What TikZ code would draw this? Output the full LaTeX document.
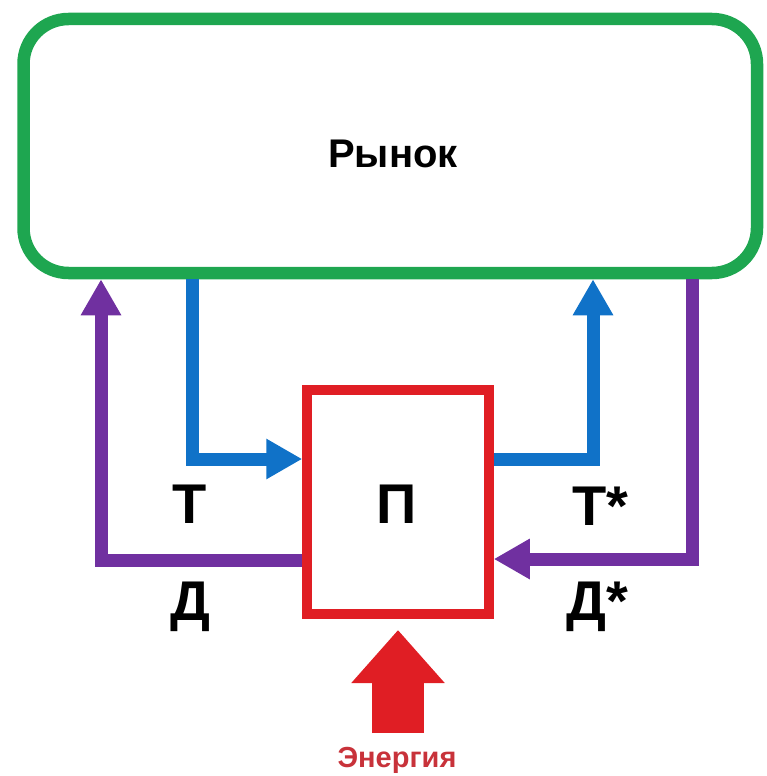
\documentclass[tikz,border=0pt]{standalone}
\usepackage{fontspec}
\setmainfont{Liberation Sans}
\usetikzlibrary{arrows.meta, positioning}
\definecolor{marketGreen}{RGB}{30,166,80}
\definecolor{goodsBlue}{RGB}{16,114,200}
\definecolor{moneyPurple}{RGB}{112,48,160}
\definecolor{firmRed}{RGB}{224,30,36}
\definecolor{energyRed}{RGB}{200,50,58}

\begin{document}
\begin{tikzpicture}[x=1pt, y=-1pt,
        goods/.style={goodsBlue, line width=13pt, -{Triangle[width=38pt, length=36pt]}},
        money/.style={moneyPurple, line width=13pt, -{Triangle[width=38pt, length=36pt]}},
        flowlabel/.style={font=\bfseries\fontsize{56}{60}\selectfont, anchor=base, inner sep=0pt}]
            \useasboundingbox (0,0) rectangle (766,776);
            % market and firm
            \node[draw=marketGreen, line width=12.5pt, rounded corners=45pt, minimum width=733.5pt, minimum height=254pt,
                  font=\bfseries\fontsize{40}{44}\selectfont] (market) at (390.25,146) {};
            \node[font=\bfseries\fontsize{40}{44}\selectfont, anchor=base, inner sep=0pt] (marketname) at (393,167) {Рынок};
            \node[draw=firmRed, line width=10pt, minimum width=181.5pt, minimum height=224pt] (firm) at (398,502) {};
            \node[flowlabel] (firmname) at (397,523) {П};
            % bends of the flows
            \coordinate (tin) at (192,459);
            \coordinate (tout) at (593,459);
            \coordinate (din) at (692,559);
            \coordinate (dout) at (101,560);
            \draw[goods] (market.south -| tin) |- (firm.west |- tin);
            \draw[goods] (firm.east |- tout) -| (market.south -| tout);
            \draw[money] (market.south -| din) |- (firm.east |- din);
            \draw[money] (firm.west |- dout) -| (market.south -| dout);
            \node[flowlabel] (tlabel) at (190,523) {Т};
            \node[flowlabel] (dlabel) at (190,620) {Д};
            \node[flowlabel] (tstar) at (600,525) {Т*};
            \node[flowlabel] (dstar) at (597,620) {Д*};
            % energy input
            \node[energyRed, font=\bfseries\fontsize{29}{32}\selectfont, anchor=base, inner sep=0pt] (energy) at (397,767) {Энергия};
            \coordinate (ebase) at (398,733);
            \draw[firmRed, line width=52pt, -{Triangle[width=90pt, length=53pt]}, shorten >=11pt] (ebase) -- (firm.south);
        \end{tikzpicture}
\end{document}
